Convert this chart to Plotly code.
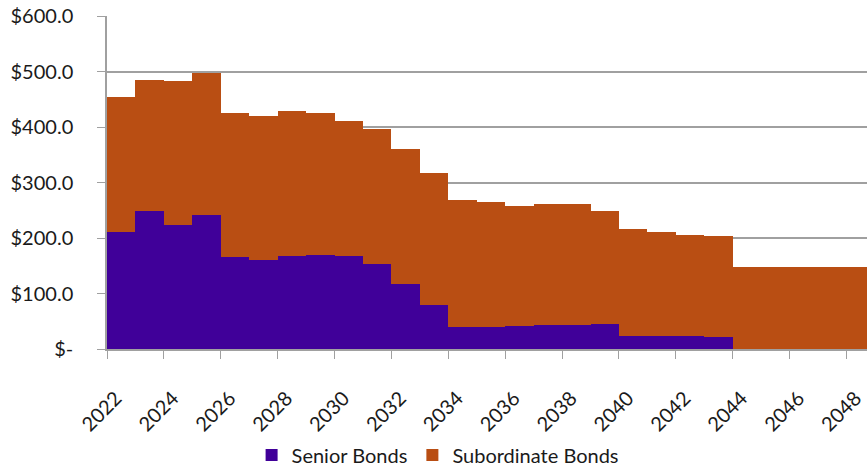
import plotly.graph_objects as go

years = list(range(2022, 2049))
senior = [211, 248, 224, 241, 165, 160, 168, 170, 167, 154, 118, 79,
          40, 40, 41, 44, 44, 45, 23, 23, 23, 21, 0, 0, 0, 0, 0]
total = [454, 485, 483, 497, 425, 420, 429, 426, 410, 397, 361, 318,
         269, 265, 258, 261, 262, 249, 216, 211, 206, 204, 147, 147, 147, 147, 147]
subordinate = [t - s for t, s in zip(total, senior)]

y_ticks = [0, 100, 200, 300, 400, 500, 600]
y_labels = ["$-", "$100.0", "$200.0", "$300.0", "$400.0", "$500.0", "$600.0"]
x_ticks = list(range(2022, 2049, 2))

SENIOR_C = "#400099"
SUB_C = "#B94E13"

fig = go.Figure()
fig.add_trace(go.Bar(x=years, y=senior, name="Senior Bonds", offset=0, width=1,
                     marker=dict(color=SENIOR_C, line=dict(width=0))))
fig.add_trace(go.Bar(x=years, y=subordinate, name="Subordinate Bonds", offset=0, width=1,
                     marker=dict(color=SUB_C, line=dict(width=0))))

fig.update_layout(
    barmode="stack", bargap=0,
    width=867, height=470,
    margin=dict(l=107, r=0, t=16, b=121, autoexpand=False),
    paper_bgcolor="white", plot_bgcolor="white",
    font=dict(family="Lato", size=18, color="#1a1a1a"),
    showlegend=True,
    legend=dict(orientation="h", x=0.435, xanchor="center", y=0.032, yanchor="middle",
                yref="container", font=dict(size=20), itemwidth=30,
                traceorder="normal", tracegroupgap=0),
)
fig.update_xaxes(range=[2022, 2048.72], tickmode="array", tickvals=x_ticks,
                 ticktext=[str(v) for v in x_ticks], tickangle=-45,
                 showgrid=False, showline=True, linecolor="#a0a0a0", linewidth=1.5,
                 ticks="outside", ticklen=8, tickcolor="#a0a0a0",
                 tickfont=dict(size=20), zeroline=False, automargin=False,
                 ticklabelshift=9, ticklabelstandoff=20,
                 ticklabeloverflow="allow")
fig.update_yaxes(range=[0, 600], tickmode="array", tickvals=y_ticks, ticktext=y_labels,
                 showgrid=True, gridcolor="#a0a0a0", gridwidth=1.5,
                 showline=True, linecolor="#a0a0a0", linewidth=1.5,
                 ticks="outside", ticklen=8, tickcolor="#a0a0a0", automargin=False,
                 tickfont=dict(size=20), zeroline=False, ticklabelstandoff=20)

fig.write_html("out.html")
